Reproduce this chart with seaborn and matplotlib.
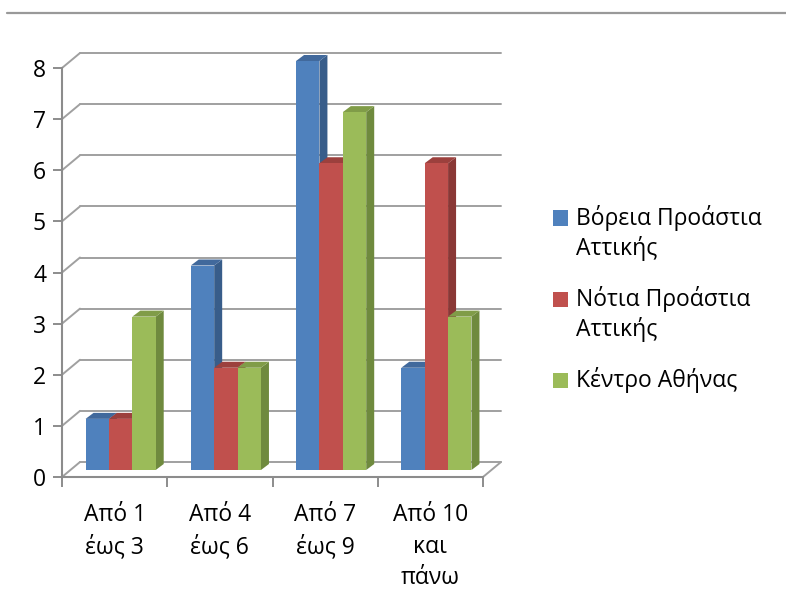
import textwrap

import numpy as np
import pandas as pd
import seaborn as sns
import matplotlib
matplotlib.use("Agg")
import matplotlib.pyplot as plt
import matplotlib.transforms as mtransforms
from matplotlib.patches import Polygon, Rectangle
from matplotlib.lines import Line2D

# --- data -------------------------------------------------------------
categories = ["Από 1 έως 3", "Από 4 έως 6", "Από 7 έως 9", "Από 10 και πάνω"]
category_labels = ["Από 1\nέως 3", "Από 4\nέως 6", "Από 7\nέως 9", "Από 10\nκαι\nπάνω"]
regions = ["Βόρεια Προάστια Αττικής", "Νότια Προάστια Αττικής", "Κέντρο Αθήνας"]
north = [1, 4, 8, 2]
south = [1, 2, 6, 6]
center = [3, 2, 7, 3]
y_ticks = [0, 1, 2, 3, 4, 5, 6, 7, 8]

# --- style ------------------------------------------------------------
front_colors = ["#4F81BD", "#C0504D", "#9BBB59"]
side_colors = ["#385D8A", "#8A3836", "#6F8A3E"]
top_colors = ["#41699C", "#9C403D", "#809C48"]
axis_grey = "#8C8C8C"
grid_grey = "#A0A0A0"
FS = 16.5

sns.set_theme(style="white")
plt.rcParams["font.family"] = ["Open Sans", "DejaVu Sans"]

W, H, DPI = 786, 610, 100
fig = plt.figure(figsize=(W / DPI, H / DPI), dpi=DPI)
fig.patch.set_facecolor("white")

# plot area (front floor edge / value axis) in pixels
px_left, px_right, px_bottom, px_top = 62, 483, 477, 68
ax = fig.add_axes([px_left / W, (H - px_bottom) / H,
                   (px_right - px_left) / W, (px_bottom - px_top) / H])
ax.set_facecolor("none")

rows = []
for region, values in zip(regions, [north, south, center]):
    for cat, v in zip(categories, values):
        rows.append({"category": cat, "region": region, "value": v})
df = pd.DataFrame(rows)

sns.barplot(data=df, x="category", y="value", hue="region",
            order=categories, hue_order=regions, palette=front_colors,
            saturation=1, width=2 / 3, dodge=True, legend=False,
            linewidth=0, edgecolor="none", ax=ax)

ax.set_xlim(-0.5, len(categories) - 0.5)
ax.set_ylim(y_ticks[0], y_ticks[-1])
ax.set_xlabel("")
ax.set_ylabel("")

# --- pseudo-3D geometry (display pixels) ------------------------------
wall = np.array([18.0, 15.0])      # back wall offset
bar_shift = np.array([6.0, 7.0])   # bars sit halfway into the floor
depth = np.array([8.0, 6.0])       # visible bar depth
ident = mtransforms.IdentityTransform()
to_disp = ax.transData.transform

# back wall gridlines and left-wall diagonals
x0d = to_disp((ax.get_xlim()[0], 0))[0]
x1d = to_disp((ax.get_xlim()[1], 0))[0]
for v in y_ticks:
    yd = to_disp((0, v))[1]
    ax.add_line(Line2D([x0d + wall[0], x1d + wall[0]], [yd + wall[1]] * 2,
                       transform=ident, color=grid_grey, lw=1.4,
                       clip_on=False, zorder=0.5))
    ax.add_line(Line2D([x0d, x0d + wall[0]], [yd, yd + wall[1]],
                       transform=ident, color=grid_grey, lw=1.4,
                       clip_on=False, zorder=0.5))
y0d = to_disp((0, 0))[1]
ax.add_line(Line2D([x1d, x1d + wall[0]], [y0d, y0d + wall[1]],
                   transform=ident, color=grid_grey, lw=1.4,
                   clip_on=False, zorder=0.5))

# bars: shift front faces, add side and top faces
bars = sorted(ax.patches, key=lambda p: p.get_x())
for i, p in enumerate(bars):
    fc = matplotlib.colors.to_hex(p.get_facecolor())
    k = [c.lower() for c in front_colors].index(fc.lower())
    x, w, h = p.get_x(), p.get_width(), p.get_height()
    br = to_disp((x + w, 0)) + bar_shift
    tl = to_disp((x, h)) + bar_shift
    tr = to_disp((x + w, h)) + bar_shift
    z = 2 + i * 0.01
    p.set_transform(ax.transData + mtransforms.Affine2D().translate(*bar_shift))
    p.set_clip_on(False)
    p.set_zorder(z)
    side = Polygon([br, br + depth, tr + depth, tr], closed=True,
                   transform=ident, facecolor=side_colors[k],
                   edgecolor="none", clip_on=False, zorder=z - 0.001)
    top = Polygon([tl, tr, tr + depth, tl + depth], closed=True,
                  transform=ident, facecolor=top_colors[k],
                  edgecolor="none", clip_on=False, zorder=z - 0.001)
    ax.add_patch(side)
    ax.add_patch(top)

# --- axes, ticks, labels ----------------------------------------------
for s in ["top", "right"]:
    ax.spines[s].set_visible(False)
for s in ["left", "bottom"]:
    ax.spines[s].set_color(axis_grey)
    ax.spines[s].set_linewidth(1.5)
    ax.spines[s].set_zorder(1)

ax.set_yticks(y_ticks)
ax.set_yticklabels([str(v) for v in y_ticks])
ax.tick_params(axis="y", which="major", direction="out", length=6.5,
               width=1.4, color=axis_grey, pad=5, labelsize=FS,
               labelcolor="black", left=True)

bounds = np.arange(len(categories) + 1) - 0.5
ax.set_xticks(bounds)
ax.set_xticklabels([""] * len(bounds))
ax.set_xticks(np.arange(len(categories)), minor=True)
ax.set_xticklabels(category_labels, minor=True, linespacing=1.4)
ax.tick_params(axis="x", which="major", direction="out", length=7,
               width=1.4, color=axis_grey, bottom=True)
ax.tick_params(axis="x", which="minor", length=0, pad=19, labelsize=FS,
               labelcolor="black")

# --- legend -----------------------------------------------------------
legend_rows = [218, 299, 380]
for k, (region, row) in enumerate(zip(regions, legend_rows)):
    sq = 15
    fig.add_artist(Rectangle((553 / W, (H - row - sq / 2) / H), sq / W, sq / H,
                             transform=fig.transFigure,
                             facecolor=front_colors[k], edgecolor="none"))
    fig.text(576 / W, (H - row + 13) / H, textwrap.fill(region, 15),
             fontsize=FS, va="top", ha="left", linespacing=1.25,
             color="black")

# rule across the top of the chart
fig.add_artist(Line2D([7 / W, 1.0], [(H - 13) / H] * 2,
                      transform=fig.transFigure, color="#999999", lw=1.6))

fig.savefig("out.png", dpi=DPI, facecolor="white")
